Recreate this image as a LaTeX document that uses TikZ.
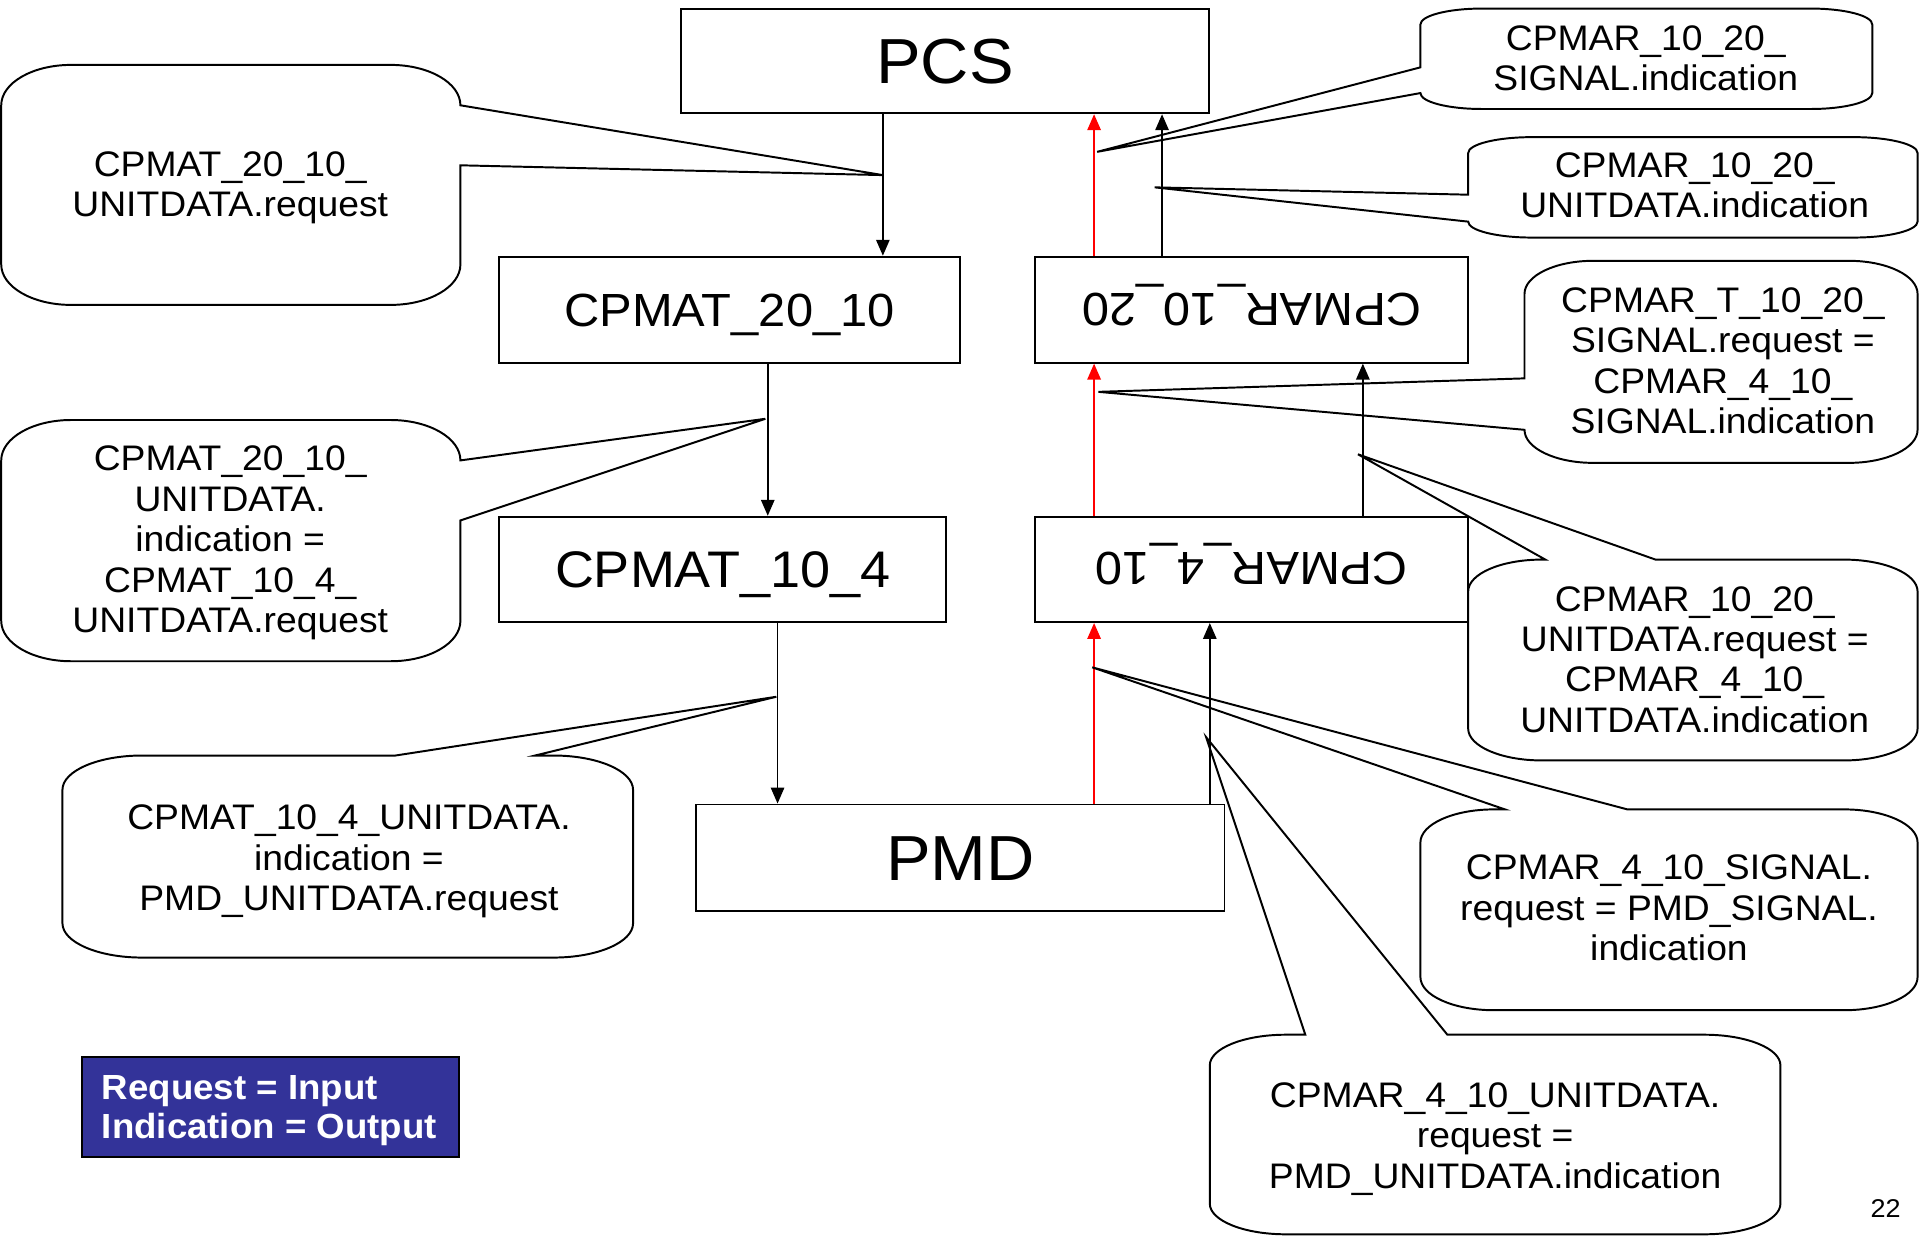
\documentclass[tikz,border=0pt]{standalone}
\usepackage{fontspec}
\setmainfont{Liberation Sans}[FakeStretch=1.05]
\usetikzlibrary{arrows.meta}
\definecolor{legendblue}{RGB}{51,51,153}
% strut giving every callout line the same height and depth
\newcommand\cs{\rule[-9pt]{0pt}{33pt}}
% rounded callout: x1,y1,x2,y2,rx,ry, then path pieces for the pointer on the top, right or left edge
\newcommand\bubble[9]{%
  \draw[bubbleline] (#1+#5,#2) #7 -- (#3-#5,#2)
    arc[start angle=-90,end angle=0,x radius=#5,y radius=#6] #8
    -- (#3,#4-#6)
    arc[start angle=0,end angle=90,x radius=#5,y radius=#6]
    -- (#1+#5,#4)
    arc[start angle=90,end angle=180,x radius=#5,y radius=#6] #9
    -- (#1,#2+#6)
    arc[start angle=180,end angle=270,x radius=#5,y radius=#6] -- cycle;}
\tikzset{
  box/.style={draw, line width=1.6pt, inner sep=0pt,
    font=\fontsize{38}{40}\selectfont, text height=27.2pt, text depth=0pt},
  bigbox/.style={box, font=\fontsize{52}{54}\selectfont, text height=37.2pt},
  arr/.style={line width=1.2pt, -{Triangle[length=13pt,width=11pt]}},
  redarr/.style={arr, red, line width=1.3pt},
  bubbleline/.style={line width=1.6pt, line join=miter},
  bubbletext/.style={align=center, inner sep=0pt, font=\fontsize{29}{33}\selectfont},
  keybox/.style={draw=black, fill=legendblue, line width=2pt, inner sep=0pt,
    minimum width=308pt, minimum height=82pt},
  keytext/.style={text=white, font=\bfseries\fontsize{28.5}{32}\selectfont,
    inner sep=0pt, align=left}
}
\begin{document}
\begin{tikzpicture}[x=1pt,y=-1pt]
\useasboundingbox (0,0) rectangle (1568,1010);

% protocol entities
\node[bigbox, minimum width=431.5pt, minimum height=85.5pt] (pcs) at (771.75,49.75) {PCS};
\node[box, minimum width=376.4pt, minimum height=86.6pt] (t2010) at (595.8,252.9) {CPMAT\_20\_10};
\node[box, minimum width=353.5pt, minimum height=86.6pt, text height=0pt, text depth=27.2pt] (r1020) at (1022.25,252.9) {\rotatebox{180}{CPMAR\_10\_20}};
\node[box, minimum width=365pt, minimum height=86pt, font=\fontsize{42}{44}\selectfont, text height=30pt] (t104) at (590.1,465) {CPMAT\_10\_4};
\node[box, minimum width=353.5pt, minimum height=86pt, text height=0pt, text depth=27.2pt] (r410) at (1022.25,465) {\rotatebox{180}{CPMAR\_4\_10}};
\node[bigbox, minimum width=431.5pt, minimum height=86.7pt] (pmd) at (784.25,700.35) {PMD};

% columns of the vertical connectors
\coordinate (cA) at (721,0);
\coordinate (cB) at (627,0);
\coordinate (cC) at (635,0);
\coordinate (cR) at (893.5,0);
\coordinate (cD) at (988,0);
\coordinate (cE) at (1113,0);
\coordinate (cF) at (949,0);

% transmit path (downwards)
\draw[arr] (cA |- pcs.south) -- (cA |- t2010.north);
\draw[arr] (cB |- t2010.south) -- (cB |- t104.north);
\draw[arr] (cC |- t104.south) -- (cC |- pmd.north);
% receive path (upwards)
\draw[redarr] (cR |- pmd.north) -- (cR |- r410.south);
\draw[redarr] (cR |- r410.north) -- (cR |- r1020.south);
\draw[redarr] (cR |- r1020.north) -- (cR |- pcs.south);
\draw[arr] (cD |- pmd.north) -- (cD |- r410.south);
\draw[arr] (cE |- r410.north) -- (cE |- r1020.south);
\draw[arr] (cF |- r1020.north) -- (cF |- pcs.south);

% callout pointer tips
\coordinate (p1) at (721,143);
\coordinate (p2) at (625,342);
\coordinate (p3) at (634,569);
\coordinate (p4) at (896,124);
\coordinate (p5) at (943,153);
\coordinate (p6) at (897,320);
\coordinate (p7) at (1109,371);
\coordinate (p8) at (892,545);
\coordinate (p9) at (985,602);

% callout outlines
\bubble{1}{53}{376}{249}{57}{33}{}{-- (376,86) -- (p1) -- (376,135)}{}
\bubble{1}{343}{376}{540}{57}{33}{}{-- (376,376) -- (p2) -- (376,425)}{}
\bubble{51}{617}{517}{782}{65}{28}{-- (323,617) -- (p3) -- (437,617)}{}{}
\bubble{1160}{7}{1529}{89}{50}{13}{}{}{-- (1160,76) -- (p4) -- (1160,55)}
\bubble{1199}{112}{1566}{194}{52}{13}{}{}{-- (1199,181) -- (p5) -- (1199,159)}
\bubble{1245}{213}{1566}{378}{56}{27}{}{}{-- (1245,351) -- (p6) -- (1245,309)}
\bubble{1199}{457}{1566}{621}{60}{26}{-- (1262,457) -- (p7) -- (1352,457)}{}{}
\bubble{1160}{661}{1566}{825}{60}{27}{-- (1229,661) -- (p8) -- (1329,661)}{}{}
\bubble{988}{845}{1454}{1008}{62}{25}{-- (1066,845) -- (p9) -- (1182,845)}{}{}

% callout texts
\node[bubbletext] (n1) at (188,153) {\cs CPMAT\_20\_10\_\\\cs UNITDATA.request};
\node[bubbletext] (n2) at (188,443) {\cs CPMAT\_20\_10\_\\\cs UNITDATA.\\\cs indication =\\\cs CPMAT\_10\_4\_\\\cs UNITDATA.request};
\node[bubbletext] (n3) at (285,703) {\cs CPMAT\_10\_4\_UNITDATA.\\\cs indication =\\\cs PMD\_UNITDATA.request};
\node[bubbletext] (n4) at (1344,50) {\cs CPMAR\_10\_20\_\\\cs SIGNAL.indication};
\node[bubbletext] (n5) at (1384,154) {\cs CPMAR\_10\_20\_\\\cs UNITDATA.indication};
\node[bubbletext] (n6) at (1407,297) {\cs CPMAR\_T\_10\_20\_\\\cs SIGNAL.request =\\\cs CPMAR\_4\_10\_\\\cs SIGNAL.indication};
\node[bubbletext] (n7) at (1384,541) {\cs CPMAR\_10\_20\_\\\cs UNITDATA.request =\\\cs CPMAR\_4\_10\_\\\cs UNITDATA.indication};
\node[bubbletext] (n8) at (1363,744) {\cs CPMAR\_4\_10\_SIGNAL.\\\cs request = PMD\_SIGNAL.\\\cs indication};
\node[bubbletext] (n9) at (1221,930) {\cs CPMAR\_4\_10\_UNITDATA.\\\cs request =\\\cs PMD\_UNITDATA.indication};

% key
\node[keybox] (key) at (221,904) {};
\node[keytext, anchor=west] (keylabel) at (83,906)
  {\rule[-8pt]{0pt}{32pt}Request = Input\\\rule[-8pt]{0pt}{32pt}Indication = Output};

% page number
\node[font=\fontsize{21}{23}\selectfont, inner sep=0pt] (pg) at (1540,987) {22};
\end{tikzpicture}
\end{document}
